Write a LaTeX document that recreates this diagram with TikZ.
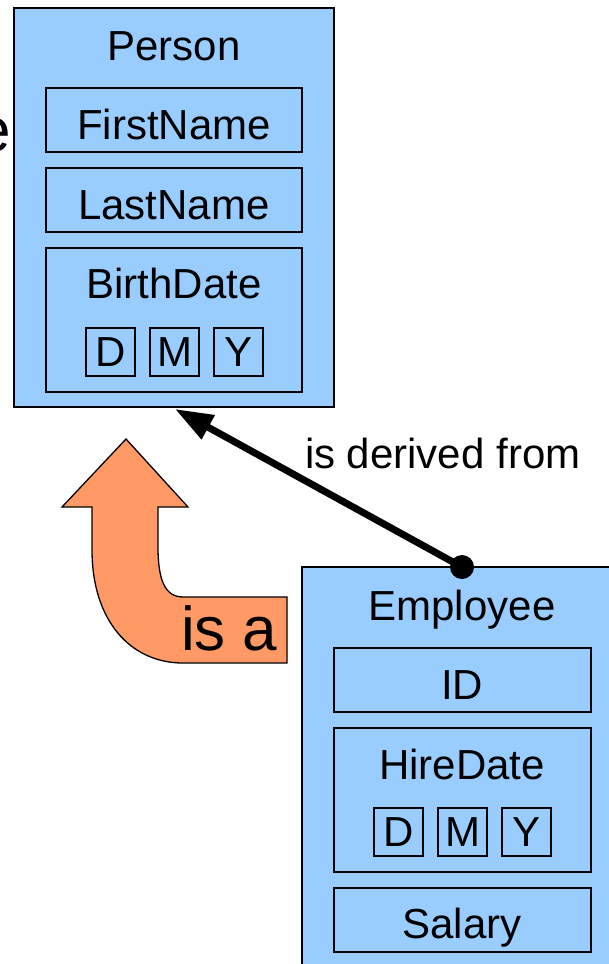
\documentclass[tikz,border=0pt]{standalone}
\usepackage{fontspec}
\setmainfont{Liberation Sans}
\usetikzlibrary{arrows.meta}
\definecolor{boxblue}{HTML}{99CCFF}
\definecolor{isaorange}{HTML}{FF9966}
\begin{document}
\begin{tikzpicture}[x=1pt,y=-1pt,
  every node/.style={inner sep=0pt, outer sep=0pt},
  classbox/.style={draw, fill=boxblue, line width=1.6pt, anchor=north west},
  fieldbox/.style={draw, line width=1.6pt, anchor=north west, minimum width=256pt},
  cellbox/.style={draw, line width=1.3pt, anchor=north west, minimum width=49pt, minimum height=48pt, font=\fontsize{42}{50}\selectfont},
  lbl/.style={font=\fontsize{42}{50}\selectfont, anchor=base},
  biglbl/.style={font=\fontsize{62}{70}\selectfont},
]
\useasboundingbox (0,0) rectangle (609,964);

% word cut off at the left border
\node[biglbl, anchor=base east] (cut) at (11,151) {e};

% ---- Person class ----
\node[classbox, minimum width=320pt, minimum height=399pt] (person) at (14,8) {};
\node[lbl] (personname) at (174,60) {Person};
\node[fieldbox, minimum height=64pt] (first) at (46,88) {};
\node[lbl] (firsttxt) at (174,139) {FirstName};
\node[fieldbox, minimum height=64pt] (last) at (46,168) {};
\node[lbl] (lasttxt) at (174,219) {LastName};
\node[fieldbox, minimum height=144pt] (birth) at (46,248) {};
\node[lbl] (birthtxt) at (174,298) {BirthDate};
\node[cellbox] (bd) at (86,328) {D};
\node[cellbox] (bm) at (150,328) {M};
\node[cellbox] (by) at (214,328) {Y};

% ---- Employee class ----
\node[classbox, minimum width=330pt, minimum height=420pt] (employee) at (302,567) {};
\node[lbl] (empname) at (462,620) {Employee};
\node[fieldbox, minimum width=257pt, minimum height=64pt] (id) at (334,648) {};
\node[lbl] (idtxt) at (462,699) {ID};
\node[fieldbox, minimum width=257pt, minimum height=144pt] (hire) at (334,728) {};
\node[lbl] (hiretxt) at (462,779) {HireDate};
\node[cellbox] (hd) at (374,808) {D};
\node[cellbox] (hm) at (438,808) {M};
\node[cellbox] (hy) at (502,808) {Y};
\node[fieldbox, minimum width=257pt, minimum height=64pt] (salary) at (334,888) {};
\node[lbl] (salarytxt) at (462,938) {Salary};

% ---- derivation connector ----
\coordinate (dot) at ([xshift=160pt]employee.north west);
\coordinate (tip) at ([xshift=1pt,yshift=-2pt]person.south);
\draw[line width=7pt, -{Triangle[length=38pt,width=26pt]}] (dot) -- (tip);
\fill (dot) circle (12pt);
\node[lbl, anchor=base west] (derived) at (305,468) {is derived from};

% ---- bent "is a" arrow ----
\draw[fill=isaorange, line width=1.3pt, line join=miter]
  (126,439) -- (188,507) -- (158,507) -- (158,547)
  .. controls (158,580) and (165,597) .. (183,597)
  -- (287,597) -- (287,663) -- (183,663)
  .. controls (130,663) and (92,620) .. (92,550)
  -- (92,507) -- (62,507) -- cycle;
\node[biglbl, anchor=base west] (isa) at (181,650) {is a};
\end{tikzpicture}
\end{document}
